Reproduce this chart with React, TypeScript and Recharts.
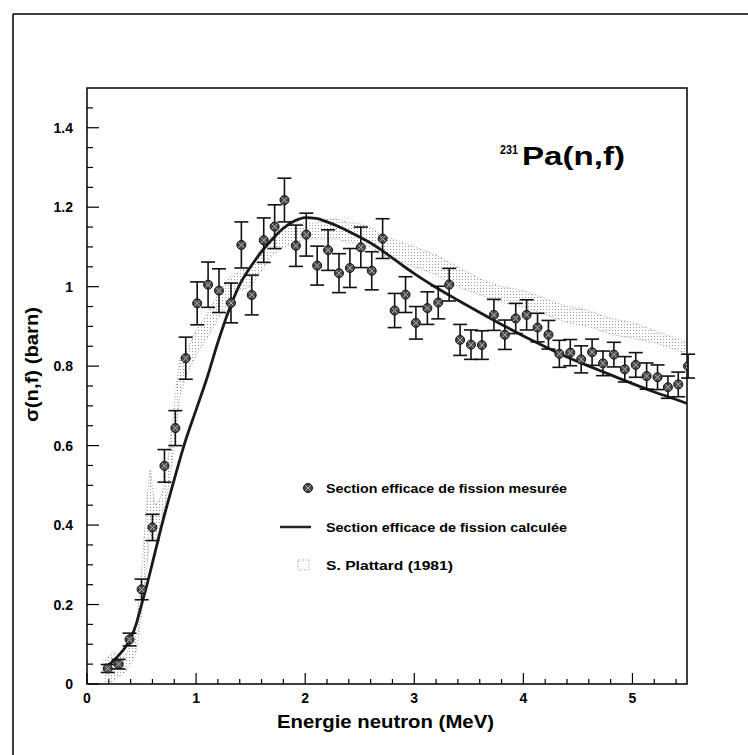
import React from 'react';
import {
  ComposedChart, Line, Scatter, Area, XAxis, YAxis, ErrorBar, ReferenceArea, Legend,
} from 'recharts';

// Measured fission cross section (MeV, barn, error)
const measE = [0.19,0.29,0.39,0.50,0.60,0.71,0.81,0.905,1.01,1.11,1.21,1.32,1.415,1.51,1.62,1.72,1.81,1.915,2.01,2.11,2.21,2.31,2.41,2.51,2.61,2.71,2.82,2.92,3.015,3.12,3.22,3.32,3.42,3.52,3.62,3.73,3.83,3.93,4.03,4.13,4.23,4.33,4.43,4.53,4.63,4.73,4.83,4.93,5.03,5.13,5.23,5.325,5.42,5.51];
const measS = [0.039,0.05,0.112,0.238,0.394,0.549,0.644,0.82,0.958,1.005,0.99,0.959,1.105,0.979,1.117,1.151,1.218,1.103,1.131,1.053,1.092,1.034,1.047,1.099,1.04,1.121,0.94,0.98,0.909,0.946,0.96,1.005,0.866,0.854,0.853,0.929,0.879,0.92,0.929,0.897,0.879,0.831,0.834,0.817,0.835,0.807,0.829,0.792,0.803,0.775,0.772,0.747,0.754,0.80];
const measErr = [0.01,0.012,0.016,0.026,0.033,0.041,0.044,0.053,0.054,0.057,0.055,0.05,0.058,0.05,0.056,0.055,0.055,0.052,0.054,0.049,0.051,0.049,0.049,0.051,0.048,0.05,0.043,0.045,0.041,0.041,0.041,0.041,0.039,0.037,0.036,0.039,0.037,0.038,0.038,0.036,0.036,0.034,0.033,0.034,0.033,0.031,0.031,0.032,0.031,0.033,0.031,0.028,0.031,0.03];

// Calculated cross section
const calcE = [0.17,0.25,0.3,0.35,0.4,0.45,0.5,0.55,0.6,0.7,0.8,0.9,1.0,1.1,1.2,1.3,1.4,1.5,1.6,1.7,1.8,1.9,2.0,2.1,2.2,2.3,2.4,2.5,2.6,2.7,2.8,2.9,3.0,3.2,3.4,3.6,3.8,4.0,4.2,4.4,4.6,4.8,5.0,5.2,5.4,5.5];
const calcS = [0.043,0.06,0.075,0.092,0.115,0.15,0.2,0.25,0.305,0.415,0.515,0.61,0.69,0.77,0.86,0.94,1.005,1.05,1.088,1.12,1.147,1.165,1.174,1.172,1.163,1.152,1.139,1.125,1.11,1.092,1.072,1.052,1.033,0.998,0.966,0.935,0.905,0.876,0.849,0.823,0.8,0.778,0.756,0.735,0.716,0.706];

// S. Plattard (1981) band
const platE = [0.15,0.2,0.25,0.3,0.35,0.4,0.45,0.5,0.55,0.58,0.62,0.66,0.7,0.75,0.8,0.85,0.9,0.95,1.0,1.1,1.2,1.3,1.4,1.5,1.6,1.7,1.8,1.9,2.0,2.1,2.2,2.3,2.4,2.5,2.6,2.7,2.8,2.9,3.0,3.2,3.4,3.6,3.8,4.0,4.2,4.4,4.6,4.8,5.0,5.2,5.4,5.5];
const platLo = [0.0,0.0,0.01,0.02,0.03,0.05,0.08,0.18,0.30,0.38,0.36,0.38,0.43,0.50,0.60,0.72,0.77,0.80,0.83,0.87,0.92,0.96,0.99,1.00,1.04,1.08,1.10,1.11,1.12,1.12,1.12,1.12,1.11,1.11,1.10,1.08,1.07,1.06,1.05,1.03,1.00,0.98,0.96,0.95,0.93,0.91,0.90,0.88,0.87,0.86,0.84,0.83];
const platHi = [0.06,0.07,0.08,0.07,0.07,0.10,0.14,0.28,0.47,0.54,0.45,0.46,0.49,0.58,0.70,0.82,0.83,0.86,0.89,0.93,0.98,1.02,1.04,1.05,1.10,1.13,1.15,1.16,1.16,1.16,1.17,1.17,1.16,1.16,1.15,1.13,1.12,1.11,1.10,1.08,1.05,1.02,1.00,0.99,0.97,0.95,0.94,0.92,0.91,0.89,0.87,0.86];

const xTicks = [0,0.2,0.4,0.6,0.8,1,1.2,1.4,1.6,1.8,2,2.2,2.4,2.6,2.8,3,3.2,3.4,3.6,3.8,4,4.2,4.4,4.6,4.8,5,5.2,5.4];
const yTicks = [0,0.05,0.1,0.15,0.2,0.25,0.3,0.35,0.4,0.45,0.5,0.55,0.6,0.65,0.7,0.75,0.8,0.85,0.9,0.95,1,1.05,1.1,1.15,1.2,1.25,1.3,1.35,1.4,1.45];

const legendLabels = ['Section efficace de fission mesurée', 'Section efficace de fission calculée', 'S. Plattard (1981)'];

const measData = measE.map((e, i) => ({ E: e, s: measS[i], err: measErr[i] }));
const calcData = calcE.map((e, i) => ({ E: e, s: calcS[i] }));
const platData = platE.map((e, i) => ({ E: e, lo: platLo[i], hi: platHi[i] }));

const FONT = '"Liberation Sans", Arial, Helvetica, sans-serif';

const XTick = (props: any) => {
  const { x, y, payload } = props;
  const v = payload.value;
  const major = Math.abs(v - Math.round(v)) < 1e-6;
  return (
    <g>
      <line x1={x} x2={x} y1={y} y2={y - (major ? 11 : 5)} stroke="#000" strokeWidth={1.2} />
      {major && (
        <text x={x} y={y + 19} textAnchor="middle" fontFamily={FONT} fontWeight="bold" fontSize={14} fill="#000">
          {Math.round(v)}
        </text>
      )}
    </g>
  );
};

const YTick = (props: any) => {
  const { x, y, payload } = props;
  const v = payload.value;
  const major = Math.abs(v * 5 - Math.round(v * 5)) < 1e-6;
  const label = Math.abs(v - Math.round(v)) < 1e-6 ? String(Math.round(v)) : v.toFixed(1);
  return (
    <g>
      <line x1={x} x2={x + (major ? 12 : 6)} y1={y} y2={y} stroke="#000" strokeWidth={1.2} />
      {major && (
        <text x={x - 14} y={y + 5} textAnchor="end" fontFamily={FONT} fontWeight="bold" fontSize={14} fill="#000">
          {label}
        </text>
      )}
    </g>
  );
};

const MeasDot = (props: any) => {
  const { cx, cy } = props;
  if (cx == null || cy == null) return null;
  return (
    <g>
      <circle cx={cx} cy={cy} r={4.5} fill="#4a4a4a" stroke="#111" strokeWidth={1} />
      <path d={`M${cx - 2.8},${cy - 2.8}L${cx + 2.8},${cy + 2.8}M${cx - 2.8},${cy + 2.8}L${cx + 2.8},${cy - 2.8}`} stroke="#b5b5b5" strokeWidth={1} />
    </g>
  );
};

const LegendBox = () => (
  <svg width={320} height={110} style={{ display: 'block' }}>
    <g fontFamily={FONT} fontWeight="bold" fontSize={13.5} fill="#000">
      <circle cx={30} cy={18} r={4.5} fill="#4a4a4a" stroke="#111" />
      <path d="M27.2,15.2L32.8,20.8M27.2,20.8L32.8,15.2" stroke="#b5b5b5" strokeWidth={1} />
      <text x={48} y={23} textLength={241} lengthAdjust="spacingAndGlyphs">{legendLabels[0]}</text>
      <line x1={2} x2={33} y1={57} y2={57} stroke="#222" strokeWidth={2.5} />
      <text x={48} y={62} textLength={241} lengthAdjust="spacingAndGlyphs">{legendLabels[1]}</text>
      <rect x={20} y={90} width={11} height={10} fill="none" stroke="#999" strokeDasharray="1 1.5" />
      <text x={48} y={100} textLength={127} lengthAdjust="spacingAndGlyphs">{legendLabels[2]}</text>
    </g>
  </svg>
);

export default function App() {
  return (
    <div style={{ position: 'absolute', left: 0, top: 0, width: 748, height: 755, background: '#fff' }}>
      <ComposedChart
        width={748}
        height={755}
        margin={{ top: 88, right: 61, bottom: 0, left: 0 }}
      >
        <defs>
          <pattern id="stipple" width="3" height="3" patternUnits="userSpaceOnUse">
            <rect x="0" y="0" width="1" height="1" fill="#9a9a9a" />
          </pattern>
        </defs>
        <XAxis
          type="number"
          dataKey="E"
          domain={[0, 5.5]}
          allowDataOverflow
          ticks={xTicks}
          interval={0}
          tick={<XTick />}
          tickSize={0}
          tickMargin={0}
          tickLine={false}
          axisLine={false}
          height={71}
          label={(p: any) => {
            const vb = p.viewBox;
            return (
              <text x={277} y={vb.y + 44} textLength={217} lengthAdjust="spacingAndGlyphs" fontFamily={FONT} fontWeight="bold" fontSize={18} fill="#000">
                Energie neutron (MeV)
              </text>
            );
          }}
        />
        <YAxis
          type="number"
          domain={[0, 1.5]}
          allowDataOverflow
          ticks={yTicks}
          interval={0}
          tick={<YTick />}
          tickSize={0}
          tickMargin={0}
          tickLine={false}
          axisLine={false}
          width={87}
          label={(p: any) => {
            const cy = 364.5;
            return (
              <text x={38} y={cy} transform={`rotate(-90 38 ${cy})`} textAnchor="middle" textLength={115} lengthAdjust="spacingAndGlyphs" fontFamily={FONT} fontWeight="bold" fontSize={18} fill="#000">
                σ(n,f) (barn)
              </text>
            );
          }}
        />
        <Area
          data={platData}
          dataKey={(d: any) => [d.lo, d.hi]}
          type="linear"
          stroke="#9c9c9c"
          strokeWidth={1}
          strokeDasharray="1 2"
          fill="url(#stipple)"
          fillOpacity={1}
          isAnimationActive={false}
          dot={false}
          activeDot={false}
        />
        <Line
          data={calcData}
          dataKey="s"
          type="monotone"
          stroke="#1a1a1a"
          strokeWidth={2.8}
          dot={false}
          activeDot={false}
          isAnimationActive={false}
        />
        <Scatter data={measData} dataKey="s" shape={<MeasDot />} isAnimationActive={false}>
          <ErrorBar dataKey="err" direction="y" width={7} stroke="#111" strokeWidth={1.6} />
        </Scatter>
        <ReferenceArea x1={0} x2={5.5} y1={0} y2={1.5} fill="none" fillOpacity={0} stroke="#000" strokeWidth={1.5} />
        <Legend
          layout="vertical"
          align="center"
          verticalAlign="middle"
          wrapperStyle={{ position: 'absolute', left: 278, top: 470, width: 320, height: 110 }}
          content={() => <LegendBox />}
        />
      </ComposedChart>
      <svg width={748} height={755} style={{ position: 'absolute', left: 0, top: 0, pointerEvents: 'none' }}>
        <line x1={13} x2={748} y1={14} y2={14} stroke="#000" strokeWidth={1.5} />
        <line x1={13} x2={13} y1={14} y2={755} stroke="#000" strokeWidth={1.5} />
        <text x={500} y={154} fontFamily={FONT} fontWeight="bold" fontSize={13} fill="#000" textLength={18} lengthAdjust="spacingAndGlyphs">231</text>
        <text x={522} y={165} fontFamily={FONT} fontWeight="bold" fontSize={26} fill="#000" textLength={103} lengthAdjust="spacingAndGlyphs">Pa(n,f)</text>
      </svg>
    </div>
  );
}
